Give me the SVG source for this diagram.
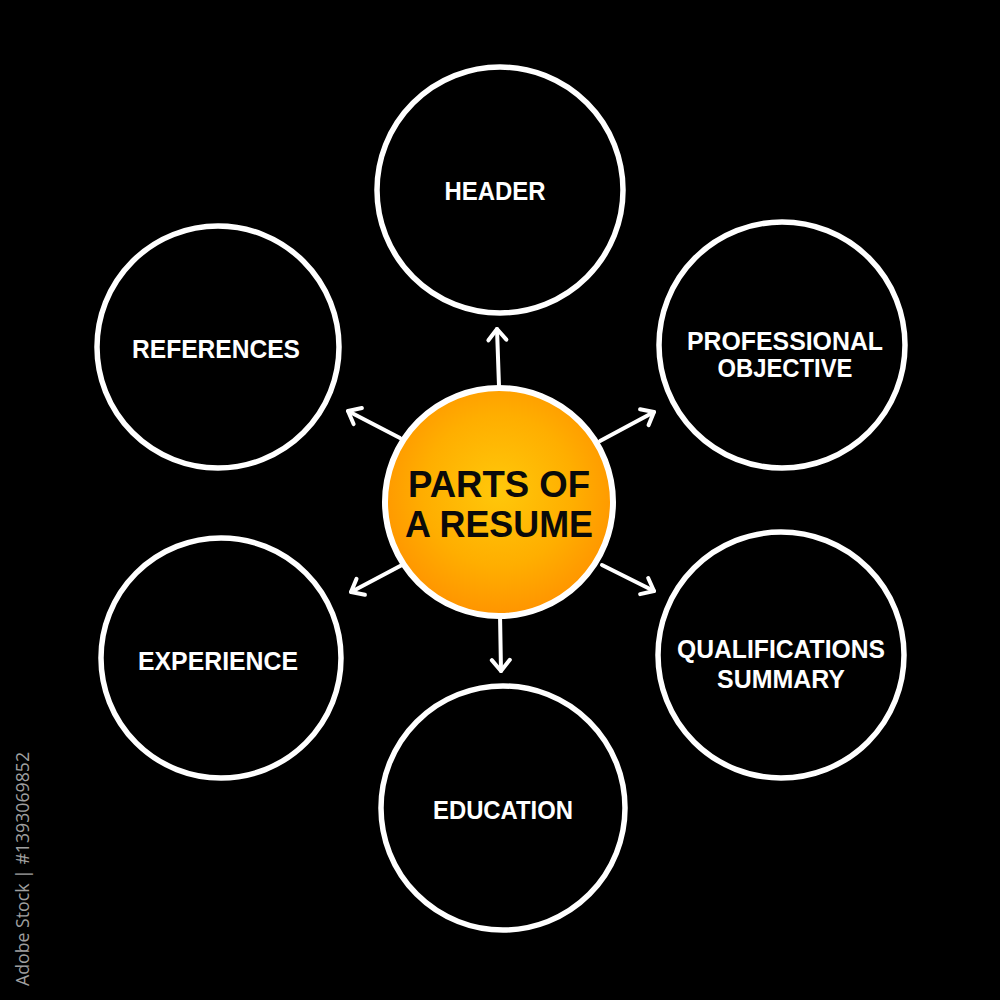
<svg xmlns="http://www.w3.org/2000/svg" width="1000" height="1000" viewBox="0 0 1000 1000">
  <style>
    .ring { fill: #000; stroke: #fff; stroke-width: 5.5; }
    .lbl { fill: #fff; font-family: "Liberation Sans", Arial, sans-serif; font-weight: bold; font-size: 25px; text-anchor: middle; }
    .ctr { fill: #0a0a0a; font-family: "Liberation Sans", Arial, sans-serif; font-weight: bold; font-size: 37px; text-anchor: middle; }
    .arr { stroke: #fff; stroke-width: 4; fill: none; stroke-linecap: round; marker-end: url(#chev); }
    .stamp { fill: #a0a0a0; font-family: "Open Sans", "DejaVu Sans", sans-serif; font-size: 18px; }
  </style>
  <defs>
    <radialGradient id="orange" cx="0.5" cy="0.45" r="0.55">
      <stop offset="0" stop-color="#FFC80A"/>
      <stop offset="0.6" stop-color="#FFAE00"/>
      <stop offset="1" stop-color="#FF9400"/>
    </radialGradient>
    <marker id="chev" viewBox="-16 -12 20 24" refX="0" refY="0" markerWidth="20" markerHeight="24" markerUnits="userSpaceOnUse" orient="auto" overflow="visible">
      <path d="M-11,-9 L0,0 L-11,9" fill="none" stroke="#fff" stroke-width="4" stroke-linecap="round" stroke-linejoin="round"/>
    </marker>
  </defs>
  <rect x="0" y="0" width="1000" height="1000" fill="#000"/>

  <g id="connectors">
    <line class="arr" x1="499" y1="386" x2="497" y2="329"/>
    <line class="arr" x1="400" y1="438" x2="348" y2="411"/>
    <line class="arr" x1="600" y1="441" x2="654" y2="412"/>
    <line class="arr" x1="402" y1="565" x2="351" y2="592"/>
    <line class="arr" x1="602" y1="565" x2="654" y2="591"/>
    <line class="arr" x1="500" y1="614" x2="501" y2="671"/>
  </g>

  <g id="center">
    <circle cx="499" cy="502" r="114" fill="url(#orange)" stroke="#fff" stroke-width="6"/>
    <text class="ctr" x="499" y="497" textLength="182" lengthAdjust="spacingAndGlyphs">PARTS OF</text>
    <text class="ctr" x="499" y="537" textLength="188" lengthAdjust="spacingAndGlyphs">A RESUME</text>
  </g>

  <g id="header">
    <circle class="ring" cx="500" cy="190" r="123"/>
    <text class="lbl" x="495" y="200" textLength="101" lengthAdjust="spacingAndGlyphs">HEADER</text>
  </g>

  <g id="references">
    <circle class="ring" cx="218" cy="347" r="121"/>
    <text class="lbl" x="216" y="358" textLength="168" lengthAdjust="spacingAndGlyphs">REFERENCES</text>
  </g>

  <g id="professional-objective">
    <circle class="ring" cx="782" cy="345" r="123"/>
    <text class="lbl" x="785" y="350" textLength="196" lengthAdjust="spacingAndGlyphs">PROFESSIONAL</text>
    <text class="lbl" x="785" y="377" textLength="135" lengthAdjust="spacingAndGlyphs">OBJECTIVE</text>
  </g>

  <g id="experience">
    <circle class="ring" cx="221" cy="658" r="120"/>
    <text class="lbl" x="218" y="670" textLength="160" lengthAdjust="spacingAndGlyphs">EXPERIENCE</text>
  </g>

  <g id="qualifications-summary">
    <circle class="ring" cx="781" cy="655" r="123"/>
    <text class="lbl" x="781" y="658" textLength="208" lengthAdjust="spacingAndGlyphs">QUALIFICATIONS</text>
    <text class="lbl" x="781" y="688" textLength="128" lengthAdjust="spacingAndGlyphs">SUMMARY</text>
  </g>

  <g id="education">
    <circle class="ring" cx="503" cy="808" r="122"/>
    <text class="lbl" x="503" y="819" textLength="140" lengthAdjust="spacingAndGlyphs">EDUCATION</text>
  </g>

  <text class="stamp" transform="translate(29,986) rotate(-90)" textLength="234" lengthAdjust="spacingAndGlyphs">Adobe Stock | #1393069852</text>
</svg>
